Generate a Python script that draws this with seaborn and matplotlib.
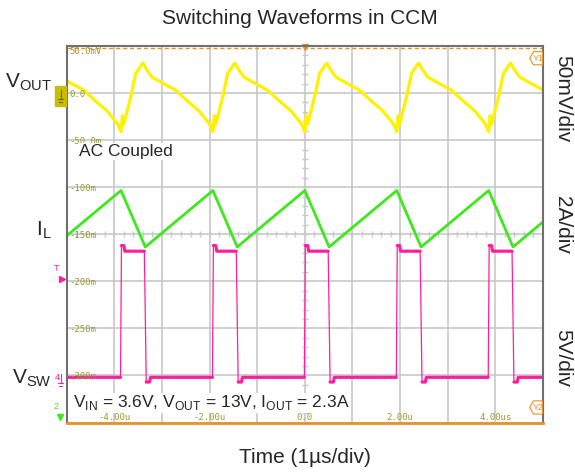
import numpy as np
import pandas as pd
import seaborn as sns
import matplotlib.pyplot as plt
from matplotlib.patches import Rectangle, Polygon

# Values (time in us)
switch_rise = [-5.79, -3.86, -1.93, 0.0, 1.93, 3.86, 5.79]   # V_SW rising edges
off_time = 0.51                                              # V_SW high time

# one V_OUT ripple cycle, starting at a V_SW rising edge (mV, AC coupled)
vout_cycle_t = [0.00, 0.03, 0.06, 0.21, 0.31, 0.46, 0.55, 0.65, 0.86, 1.15, 1.43, 1.64, 1.86]
vout_cycle_mv = [-41, -24, -33, -3, 21, 32, 24, 17, 11, 3, -10, -19, -33]

il_peak = 10.4     # A
il_valley = 8.0    # A

vsw_high = 13.4    # V
vsw_spike = 14.0   # V
vsw_under = -0.5   # V

# channel scales / ground positions on the screen (screen units = ch1 mV)
ch2_gnd, ch2_scale = -363.5, 2.0   # 2A/div
ch4_gnd, ch4_scale = -302.0, 5.0   # 5V/div

y_labels = ["50.0mV", "0.0", "-50.0m", "-100m", "-150m", "-200m", "-250m", "-300m"]
y_label_pos = [50, 0, -50, -100, -150, -200, -250, -300]
x_labels = ["-4.00u", "-2.00u", "0.0", "2.00u", "4.00us"]
x_label_pos = [-4, -2, 0, 2, 4]

# build the traces
t_vout, v_vout = [], []
for T in switch_rise:
    for dt, mv in zip(vout_cycle_t, vout_cycle_mv):
        t_vout.append(T + dt)
        v_vout.append(mv)
vout = pd.DataFrame({"t": t_vout, "y": v_vout})

t_il, i_il = [], []
for T in switch_rise:
    t_il += [T, T + off_time]
    i_il += [il_peak, il_valley]
il = pd.DataFrame({"t": t_il, "y": [ch2_gnd + i / ch2_scale * 50 for i in i_il]})

t_sw, v_sw = [], []
for T in switch_rise:
    pts = [(T - 0.01, 0.0), (T + 0.01, vsw_spike), (T + 0.06, vsw_spike),
           (T + 0.08, vsw_high), (T + off_time - 0.02, vsw_high),
           (T + off_time + 0.02, vsw_under), (T + off_time + 0.09, vsw_under),
           (T + off_time + 0.11, 0.0)]
    for p in pts:
        t_sw.append(p[0])
        v_sw.append(p[1])
vsw = pd.DataFrame({"t": t_sw, "y": [ch4_gnd + v / ch4_scale * 50 for v in v_sw]})

# flat parts drawn thicker than the edges
flat_rows = []
for k, T in enumerate(switch_rise):
    flat_rows += [(T + 0.01, vsw_spike, 2 * k), (T + 0.06, vsw_spike, 2 * k),
                  (T + 0.08, vsw_high, 2 * k), (T + off_time - 0.02, vsw_high, 2 * k)]
    if k + 1 < len(switch_rise):
        flat_rows += [(T + off_time + 0.02, vsw_under, 2 * k + 1),
                      (T + off_time + 0.09, vsw_under, 2 * k + 1),
                      (T + off_time + 0.11, 0.0, 2 * k + 1),
                      (switch_rise[k + 1] - 0.01, 0.0, 2 * k + 1)]
vsw_flat = pd.DataFrame(flat_rows, columns=["t", "v", "seg"])
vsw_flat["y"] = ch4_gnd + vsw_flat["v"] / ch4_scale * 50

# Plot
sns.set_style("white")
plt.rcParams["font.family"] = ["Liberation Sans", "DejaVu Sans"]
plt.rcParams["mathtext.fontset"] = "custom"
plt.rcParams["mathtext.rm"] = "Liberation Sans"

fig = plt.figure(figsize=(5.75, 4.73), dpi=100)
ax = fig.add_axes([66.7 / 575, 1 - 422.5 / 473, (543 - 66.7) / 575, (422.5 - 46) / 473])

grid_c = "#C8C8C8"
orange = "#E8902A"
yellow = "#FFF200"
green = "#3DE81C"
pink = "#FF1E9E"
olive = "#9A9A30"

ax.set_xlim(-5, 5)
ax.set_ylim(-350, 50)
ax.set_xticks(np.arange(-5, 6, 1))
ax.set_yticks(np.arange(-350, 51, 50))
ax.grid(True, color=grid_c, lw=1.2)
ax.tick_params(length=0, labelbottom=False, labelleft=False)

# minor ticks along the centre cross
minor_x = np.arange(-5, 5.01, 0.2)
minor_y = np.arange(-350, 50.1, 10)
ax.plot(minor_x, np.full(len(minor_x), -150), ls="none", marker="|", ms=4, color=grid_c, mew=1)
ax.plot(np.zeros(len(minor_y)), minor_y, ls="none", marker="_", ms=4, color=grid_c, mew=1)

for s in ["left", "top", "right"]:
    ax.spines[s].set_color("#707070")
    ax.spines[s].set_linewidth(1.5)
ax.spines["bottom"].set_color(orange)
ax.spines["bottom"].set_linewidth(2)
ax.axhline(48, color=orange, lw=1, ls=(0, (3, 2)))
ax.plot(0, 49, marker="v", color=orange, ms=5, clip_on=False)

# traces
sns.lineplot(data=vout, x="t", y="y", ax=ax, color=yellow, lw=2.3, sort=False, estimator=None)
sns.lineplot(data=il, x="t", y="y", ax=ax, color=green, lw=2.0, sort=False, estimator=None)
sns.lineplot(data=vsw, x="t", y="y", ax=ax, color=pink, lw=0.9, sort=False, estimator=None)
sns.lineplot(data=vsw_flat, x="t", y="y", units="seg", ax=ax, color=pink, lw=2.3,
             sort=False, estimator=None)
ax.set_xlabel("")
ax.set_ylabel("")

# scope graticule labels
for lab, yv in zip(y_labels, y_label_pos):
    ax.text(-4.95, yv - 1, lab, fontsize=6.5, family="DejaVu Sans Mono", color=olive,
            va="top" if yv == 50 else "center", ha="left")
for lab, xv in zip(x_labels, x_label_pos):
    ax.text(xv, -349, lab, fontsize=6.5, family="DejaVu Sans Mono", color=olive,
            va="bottom", ha="center", zorder=8)

# channel markers on the left edge
ax.add_patch(Rectangle((-5.24, -14), 0.23, 21, color="#C8BE00", clip_on=False, zorder=5))
ax.plot([-5.13, -5.13], [3, -6], color="#6A6400", lw=0.8, clip_on=False, zorder=6)
ax.plot([-5.18, -5.08], [-6, -6], color="#6A6400", lw=0.8, clip_on=False, zorder=6)
ax.plot([-5.16, -5.10], [-9, -9], color="#6A6400", lw=0.8, clip_on=False, zorder=6)
ax.text(-5.2, -302, "4", color=pink, fontsize=6.5, ha="center", va="center", clip_on=False)
ax.plot([-5.13, -5.13], [-298, -308], color=pink, lw=0.8, clip_on=False)
ax.plot([-5.18, -5.08], [-308, -308], color=pink, lw=0.8, clip_on=False)
ax.plot([-5.16, -5.10], [-311, -311], color=pink, lw=0.8, clip_on=False)
ax.text(-5.22, -186, "T", color=pink, fontsize=6.5, ha="center", va="center", clip_on=False)
ax.plot(-5.1, -198, marker=">", color=pink, ms=4, clip_on=False)
ax.text(-5.22, -333, "2", color=green, fontsize=6.5, ha="center", va="center", clip_on=False)
ax.plot(-5.15, -344, marker="v", color=green, ms=4, clip_on=False)

# Y1 / Y2 reference markers on the right edge
for yc, lab in [(37, "Y1"), (-334, "Y2")]:
    ax.add_patch(Polygon([[4.72, yc], [4.80, yc + 7], [4.99, yc + 7], [4.99, yc - 7], [4.80, yc - 7]],
                         closed=True, fill=False, ec=orange, lw=0.8, zorder=5))
    ax.text(4.9, yc, lab, color=orange, fontsize=6.5, ha="center", va="center", zorder=6)

# annotations inside the screen
ax.text(-4.74, -62, "AC Coupled", fontsize=12.5, va="center", ha="left",
        bbox=dict(facecolor="white", edgecolor="none", pad=0.5), zorder=7)
ax.text(-4.87, -329, "V$_{\\rm IN}$ = 3.6V, V$_{\\rm OUT}$ = 13V, I$_{\\rm OUT}$ = 2.3A",
        fontsize=12.5, va="center", ha="left",
        bbox=dict(facecolor="white", edgecolor="none", pad=0.3), zorder=7)

# labels around the screen
fig.text(300 / 575, 1 - 18 / 473, "Switching Waveforms in CCM", fontsize=15, ha="center", va="center")
fig.text(305 / 575, 1 - 457 / 473, "Time (1\u00b5s/div)", fontsize=15, ha="center", va="center")
fig.text(52 / 575, 1 - 87 / 473, "V$_{\\rm OUT}$", fontsize=15, ha="right", va="baseline")
fig.text(52 / 575, 1 - 235 / 473, "I$_{\\rm L}$", fontsize=15, ha="right", va="baseline")
fig.text(52 / 575, 1 - 383 / 473, "V$_{\\rm SW}$", fontsize=15, ha="right", va="baseline")
fig.text(563 / 575, 1 - 99 / 473, "50mV/div", fontsize=15, rotation=-90, ha="center", va="center")
fig.text(563 / 575, 1 - 225 / 473, "2A/div", fontsize=15, rotation=-90, ha="center", va="center")
fig.text(563 / 575, 1 - 358 / 473, "5V/div", fontsize=15, rotation=-90, ha="center", va="center")

fig.savefig("out.png", dpi=100)
